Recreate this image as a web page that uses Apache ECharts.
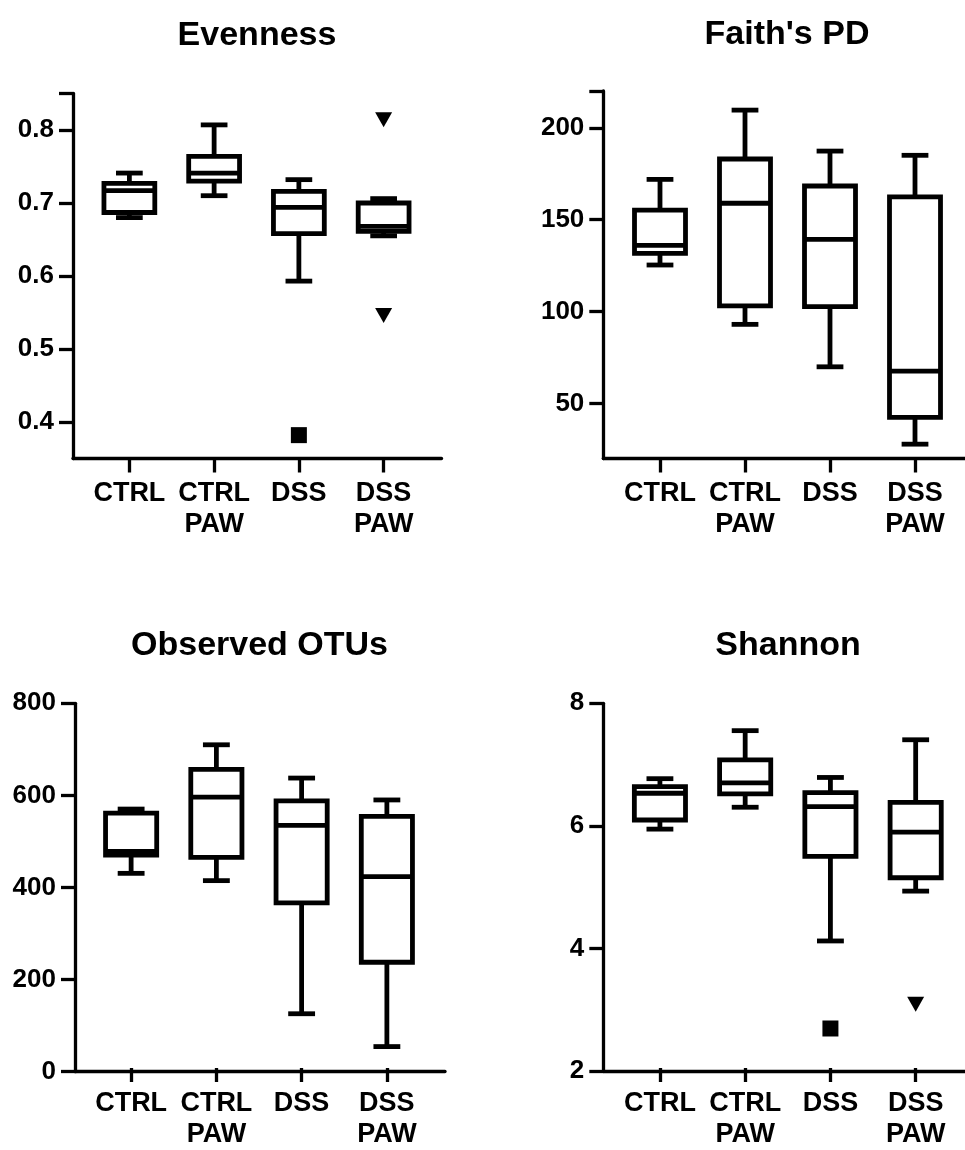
<!DOCTYPE html>
<html>
<head>
<meta charset="utf-8">
<script src="https://cdn.jsdelivr.net/npm/echarts@6/dist/echarts.min.js"></script>
<style>
html,body{margin:0;padding:0;background:#fff;}
#chart{width:965px;height:1150px;}
</style>
</head>
<body>
<div id="chart"></div>
<script>
// ---------- data ----------
const categories = ['CTRL', 'CTRL\nPAW', 'DSS', 'DSS\nPAW'];

// [min, Q1, median, Q3, max]
const evenness = [
  [0.680, 0.687, 0.717, 0.727, 0.741],
  [0.710, 0.730, 0.741, 0.764, 0.807],
  [0.593, 0.658, 0.694, 0.716, 0.732],
  [0.655, 0.661, 0.668, 0.700, 0.706]
];
const evennessSquares = [[2, 0.382]];
const evennessTriangles = [[3, 0.814], [3, 0.546]];

const faithPD = [
  [125.3, 131.6, 136.0, 155.2, 171.9],
  [93.0, 103.1, 158.9, 183.0, 209.6],
  [69.9, 102.6, 139.3, 168.3, 187.3],
  [27.8, 42.4, 67.6, 162.4, 185.0]
];
const faithSquares = [];
const faithTriangles = [];

const observedOTUs = [
  [427, 467, 475, 559, 568],
  [411, 462, 594, 655, 709],
  [119, 362, 532, 586, 636],
  [47, 232, 420, 552, 588]
];
const otuSquares = [];
const otuTriangles = [];

const shannon = [
  [5.93, 6.08, 6.52, 6.63, 6.76],
  [6.29, 6.51, 6.69, 7.07, 7.55],
  [4.09, 5.48, 6.30, 6.53, 6.78],
  [4.91, 5.13, 5.88, 6.37, 7.40]
];
const shannonSquares = [[2, 2.65]];
const shannonTriangles = [[3, 3.05]];

// axis ranges and tick labels
const evennessRange = [0.35, 0.85];
const evennessLabels = [0.4, 0.5, 0.6, 0.7, 0.8];
const evennessTicks = [0.4, 0.5, 0.6, 0.7, 0.8, 0.85];
const faithRange = [20, 220];
const faithLabels = [50, 100, 150, 200];
const faithTicks = [50, 100, 150, 200, 220];
const otuRange = [0, 800];
const otuLabels = [0, 200, 400, 600, 800];
const otuTicks = [0, 200, 400, 600, 800];
const shannonRange = [2, 8];
const shannonLabels = [2, 4, 6, 8];
const shannonTicks = [2, 4, 6, 8];

const titles = ['Evenness', "Faith's PD", 'Observed OTUs', 'Shannon'];

// ---------- layout ----------
const FONT = '"Liberation Sans", Arial, sans-serif';
const AXIS_W = 3.3, BOX_W = 4.8;
const panels = [
  { title: titles[0], data: evenness, sq: evennessSquares, tri: evennessTriangles,
    range: evennessRange, labels: evennessLabels, ticks: evennessTicks, fmt: v => v.toFixed(1),
    outer: { left: 73, top: 93.5, width: 368.5, height: 365 },
    inner: { left: 87, width: 339 }, titleX: 257, titleTop: 19 },
  { title: titles[1], data: faithPD, sq: faithSquares, tri: faithTriangles,
    range: faithRange, labels: faithLabels, ticks: faithTicks, fmt: v => String(v),
    outer: { left: 603.3, top: 91, width: 370, height: 367.5 },
    inner: { left: 617.5, width: 340 }, titleX: 787, titleTop: 18 },
  { title: titles[2], data: observedOTUs, sq: otuSquares, tri: otuTriangles,
    range: otuRange, labels: otuLabels, ticks: otuTicks, fmt: v => String(v),
    outer: { left: 75, top: 703.3, width: 370, height: 368.4 },
    inner: { left: 88.5, width: 341 }, titleX: 259.5, titleTop: 629 },
  { title: titles[3], data: shannon, sq: shannonSquares, tri: shannonTriangles,
    range: shannonRange, labels: shannonLabels, ticks: shannonTicks, fmt: v => String(v),
    outer: { left: 603.3, top: 703.3, width: 370, height: 367.7 },
    inner: { left: 617.3, width: 341 }, titleX: 788, titleTop: 629 }
];

function boxRender(params, api) {
  const i = api.value(0);
  const lo = api.coord([i, api.value(1)]);
  const q1 = api.coord([i, api.value(2)]);
  const md = api.coord([i, api.value(3)]);
  const q3 = api.coord([i, api.value(4)]);
  const hi = api.coord([i, api.value(5)]);
  const band = api.size([1, 0])[0];
  const bw = band * 0.6, cw = band * 0.315;
  const x = lo[0];
  const st = { stroke: '#000', lineWidth: BOX_W, fill: null };
  return {
    type: 'group',
    children: [
      { type: 'line', shape: { x1: x, y1: hi[1], x2: x, y2: q3[1] }, style: st },
      { type: 'line', shape: { x1: x, y1: q1[1], x2: x, y2: lo[1] }, style: st },
      { type: 'line', shape: { x1: x - cw / 2, y1: hi[1], x2: x + cw / 2, y2: hi[1] }, style: st },
      { type: 'line', shape: { x1: x - cw / 2, y1: lo[1], x2: x + cw / 2, y2: lo[1] }, style: st },
      { type: 'rect', shape: { x: x - bw / 2, y: q3[1], width: bw, height: q1[1] - q3[1] },
        style: { stroke: '#000', lineWidth: BOX_W, fill: '#fff', lineJoin: 'miter' } },
      { type: 'line', shape: { x1: x - bw / 2, y1: md[1], x2: x + bw / 2, y2: md[1] }, style: st }
    ]
  };
}

const option = { animation: false, backgroundColor: '#fff',
  title: [], grid: [], xAxis: [], yAxis: [], series: [] };

panels.forEach((p, k) => {
  option.title.push({
    text: p.title, left: p.titleX, top: p.titleTop, textAlign: 'center', padding: 0,
    textStyle: { fontFamily: FONT, fontWeight: 'bold', fontSize: 34, lineHeight: 34, color: '#000' }
  });
  const gA = 2 * k, gB = 2 * k + 1;
  option.grid.push({ left: p.outer.left, top: p.outer.top, width: p.outer.width, height: p.outer.height });
  option.grid.push({ left: p.inner.left, top: p.outer.top, width: p.inner.width, height: p.outer.height });
  // outer grid: y axis with ticks/labels, x axis line only
  option.xAxis.push({
    gridIndex: gA, type: 'value', min: 0, max: 1,
    axisLine: { show: true, lineStyle: { color: '#000', width: AXIS_W } },
    axisTick: { show: false }, axisLabel: { show: false }, splitLine: { show: false }
  });
  option.yAxis.push({
    gridIndex: gA, type: 'value', min: p.range[0], max: p.range[1],
    axisLine: { show: true, lineStyle: { color: '#000', width: AXIS_W } },
    axisTick: { show: true, length: 14, customValues: p.ticks, lineStyle: { color: '#000', width: AXIS_W } },
    axisLabel: { show: true, customValues: p.labels, formatter: p.fmt, margin: 19,
      fontFamily: FONT, fontWeight: 'bold', fontSize: 26, color: '#000' },
    splitLine: { show: false }
  });
  // inner grid: category axis + data
  option.xAxis.push({
    gridIndex: gB, type: 'category', data: categories,
    axisLine: { show: false },
    axisTick: { show: true, alignWithLabel: true, length: 14, lineStyle: { color: '#000', width: AXIS_W } },
    axisLabel: { interval: 0, margin: 20, fontFamily: FONT, fontWeight: 'bold', fontSize: 27,
      lineHeight: 31, color: '#000' },
    splitLine: { show: false }
  });
  option.yAxis.push({
    gridIndex: gB, type: 'value', min: p.range[0], max: p.range[1], show: false, splitLine: { show: false }
  });
  option.series.push({
    type: 'custom', xAxisIndex: gB, yAxisIndex: gB,
    data: p.data.map((d, i) => [i].concat(d)),
    encode: { x: 0, y: [1, 2, 3, 4, 5] },
    renderItem: boxRender, silent: true
  });
  option.series.push({
    type: 'scatter', xAxisIndex: gB, yAxisIndex: gB, data: p.sq,
    symbol: 'rect', symbolSize: 16, itemStyle: { color: '#000', opacity: 1 }, silent: true
  });
  option.series.push({
    type: 'scatter', xAxisIndex: gB, yAxisIndex: gB, data: p.tri,
    symbol: 'triangle', symbolRotate: 180, symbolSize: [17, 15],
    itemStyle: { color: '#000', opacity: 1 }, silent: true
  });
});

const chart = echarts.init(document.getElementById('chart'), null, { renderer: 'canvas' });
chart.setOption(option);
</script>
</body>
</html>
